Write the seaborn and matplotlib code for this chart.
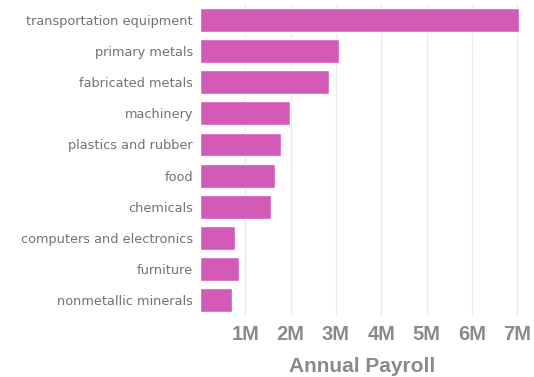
import matplotlib
matplotlib.use("Agg")
import matplotlib.pyplot as plt
import seaborn as sns
import pandas as pd

categories = ["transportation equipment", "primary metals", "fabricated metals",
              "machinery", "plastics and rubber", "food", "chemicals",
              "computers and electronics", "furniture", "nonmetallic minerals"]
payroll = [7.04e6, 3.07e6, 2.85e6, 1.99e6, 1.79e6, 1.66e6, 1.57e6, 0.77e6, 0.86e6, 0.71e6]
xticks = [1e6, 2e6, 3e6, 4e6, 5e6, 6e6, 7e6]
xticklabels = ["1M", "2M", "3M", "4M", "5M", "6M", "7M"]

df = pd.DataFrame({"category": categories, "payroll": payroll})

sns.set_theme(style="white")
fig = plt.figure(figsize=(5.34, 3.77), dpi=100)
ax = fig.add_axes([0.3745, 0.163, 0.6085, 0.825])

sns.barplot(data=df, y="category", x="payroll", color="#d35bb7", saturation=1,
            width=0.77, ax=ax, zorder=3)

ax.set_xlim(0, 7.17e6)
ax.set_xticks(xticks)
ax.set_xticklabels(xticklabels)
ax.grid(axis="x", color="#ebebeb", linewidth=0.9, zorder=0)
ax.set_axisbelow(True)
for s in ax.spines.values():
    s.set_visible(False)
ax.tick_params(axis="both", length=0)
ax.tick_params(axis="x", pad=7)
ax.tick_params(axis="y", pad=5)
for lab in ax.get_xticklabels():
    lab.set_fontfamily("Liberation Sans")
    lab.set_fontweight("bold")
    lab.set_fontsize(14.5)
    lab.set_color("#8a8a8a")
for lab in ax.get_yticklabels():
    lab.set_fontfamily("DejaVu Sans")
    lab.set_fontsize(9.3)
    lab.set_color("#727272")
ax.set_ylabel("")
ax.set_xlabel("Annual Payroll", fontfamily="Liberation Sans", fontweight="bold",
              fontsize=15, color="#8a8a8a", labelpad=9)

fig.savefig("out.png", dpi=100)
